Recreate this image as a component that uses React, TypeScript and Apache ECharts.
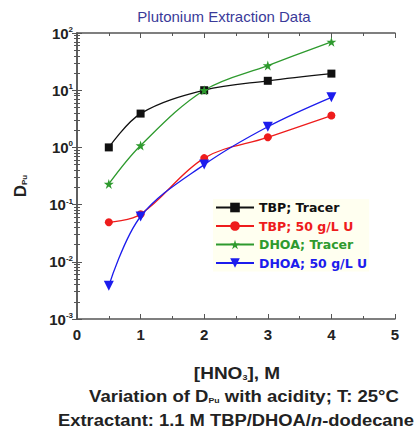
import React, { useEffect, useRef } from "react";
import * as echarts from "echarts";

const hno3 = [0.5, 1, 2, 3, 4];
const tbpTracer = [1.0, 3.9, 10, 14.6, 19.5];
const tbpU = [0.049, 0.068, 0.65, 1.5, 3.6];
const dhoaTracer = [0.23, 1.08, 10, 27, 70];
const dhoaU = [0.0038, 0.062, 0.5, 2.3, 7.5];
const seriesNames = ["TBP; Tracer", "TBP; 50 g/L U", "DHOA; Tracer", "DHOA; 50 g/L U"];
const seriesColors = ["#111111", "#ee1c1c", "#2e9a2e", "#1c1ced"];

const STAR = "path://M50,0 L61,35 L98,35 L68,57 L79,91 L50,70 L21,91 L32,57 L2,35 L39,35 Z";
const FONT = "Liberation Sans";

export default function App() {
  const ref = useRef<HTMLDivElement>(null);
  useEffect(() => {
    const chart = echarts.init(ref.current!, null, { renderer: "svg" });
    const mk = (vals: number[]) => hno3.map((x, i) => [x, vals[i]]);
    const symbols = ["rect", "circle", STAR, "triangle"];
    const sizes = [8, 8, 10, 10];
    const rotates = [0, 0, 0, 180];
    const allData = [tbpTracer, tbpU, dhoaTracer, dhoaU];
    const axisLine = { lineStyle: { color: "#555", width: 1.5 } };
    const bold = (size: number, extra: any = {}) => ({
      fontSize: size,
      fontWeight: "bold",
      fill: "#222",
      fontFamily: FONT,
      ...extra,
    });
    chart.setOption({
      animation: false,
      textStyle: { fontFamily: FONT },
      grid: { left: 77, top: 33, right: 22, bottom: 116 },
      legend: {
        orient: "vertical",
        left: 213,
        top: 199,
        itemWidth: 38,
        itemHeight: 12,
        itemGap: 5.5,
        padding: [2, 2],
        backgroundColor: "rgba(255,255,225,0.5)",
        data: seriesNames.map((n, i) => ({
          name: n,
          textStyle: {
            color: seriesColors[i],
            fontWeight: "bold",
            fontSize: 12.5,
            lineHeight: 13,
            fontFamily: "DejaVu Sans",
          },
        })),
      },
      xAxis: [
        {
          type: "value",
          min: 0,
          max: 5,
          interval: 1,
          axisLine,
          axisTick: { inside: true, length: 5, lineStyle: { color: "#555" } },
          minorTick: { show: true, splitNumber: 2, length: 3, lineStyle: { color: "#555" } },
          splitLine: { show: false },
          axisLabel: { color: "#222", fontWeight: "bold", fontSize: 15, margin: 8 },
        },
        {
          type: "value",
          position: "top",
          min: 0,
          max: 5,
          interval: 1,
          axisLine,
          axisTick: { inside: true, length: 5, lineStyle: { color: "#555" } },
          minorTick: { show: true, splitNumber: 2, length: 3, lineStyle: { color: "#555" } },
          splitLine: { show: false },
          axisLabel: { show: false },
        },
      ],
      yAxis: [
        {
          type: "log",
          logBase: 10,
          min: 0.001,
          max: 100,
          axisLine,
          axisTick: { inside: true, length: 5, lineStyle: { color: "#555" } },
          minorTick: { show: true, splitNumber: 9, length: 3, lineStyle: { color: "#555" } },
          splitLine: { show: false },
          axisLabel: {
            margin: 4,
            formatter: (v: number) => `{b|10}{s|${Math.round(Math.log10(v))}}`,
            rich: {
              b: { fontSize: 15, fontWeight: "bold", color: "#222", fontFamily: FONT },
              s: { fontSize: 8, fontWeight: "bold", color: "#222", verticalAlign: "top", fontFamily: FONT },
            },
          },
        },
        {
          type: "log",
          logBase: 10,
          min: 0.001,
          max: 100,
          position: "right",
          axisLine,
          axisTick: { inside: true, length: 5, lineStyle: { color: "#555" } },
          minorTick: { show: true, splitNumber: 9, length: 3, lineStyle: { color: "#555" } },
          splitLine: { show: false },
          axisLabel: { show: false },
        },
      ],
      series: seriesNames.map((n, i) => ({
        name: n,
        type: "line",
        xAxisIndex: 0,
        yAxisIndex: 0,
        data: mk(allData[i]),
        smooth: 0.35,
        symbol: symbols[i],
        symbolSize: sizes[i],
        symbolRotate: rotates[i],
        itemStyle: { color: seriesColors[i] },
        lineStyle: { color: seriesColors[i], width: 1.3 },
      })),
      graphic: [
        {
          type: "text",
          x: 224,
          y: 16,
          style: {
            text: "Plutonium Extraction Data",
            fill: "#3a3a99",
            font: `15px ${FONT}`,
            textAlign: "center",
            textVerticalAlign: "middle",
          },
        },
        {
          type: "text",
          x: 20,
          y: 186,
          rotation: Math.PI / 2,
          style: {
            text: "{b|D}{s|Pu}",
            textAlign: "center",
            textVerticalAlign: "middle",
            rich: {
              b: bold(17),
              s: bold(8, { verticalAlign: "bottom" }),
            },
          },
        },
        {
          type: "text",
          x: 237,
          y: 373,
          scaleX: 1.12,
          style: {
            text: "{b|[HNO}{s|3}{b|], M}",
            textAlign: "center",
            textVerticalAlign: "middle",
            rich: {
              b: bold(17),
              s: bold(8, { verticalAlign: "bottom" }),
            },
          },
        },
        {
          type: "text",
          x: 244,
          y: 396,
          scaleX: 1.09,
          style: {
            text: "{b|Variation of D}{s|Pu}{b| with acidity; T: 25°C}",
            textAlign: "center",
            textVerticalAlign: "middle",
            rich: {
              b: bold(17),
              s: bold(8, { verticalAlign: "bottom" }),
            },
          },
        },
        {
          type: "text",
          x: 236,
          y: 420,
          scaleX: 1.08,
          style: {
            text: "{b|Extractant: 1.1 M TBP/DHOA/}{i|n}{b|-dodecane}",
            textAlign: "center",
            textVerticalAlign: "middle",
            rich: {
              b: bold(17),
              i: bold(17, { fontStyle: "italic" }),
            },
          },
        },
      ],
    });
    return () => chart.dispose();
  }, []);
  return (
    <div
      ref={ref}
      style={{ position: "absolute", left: 0, top: 0, width: 417, height: 435 }}
    />
  );
}
